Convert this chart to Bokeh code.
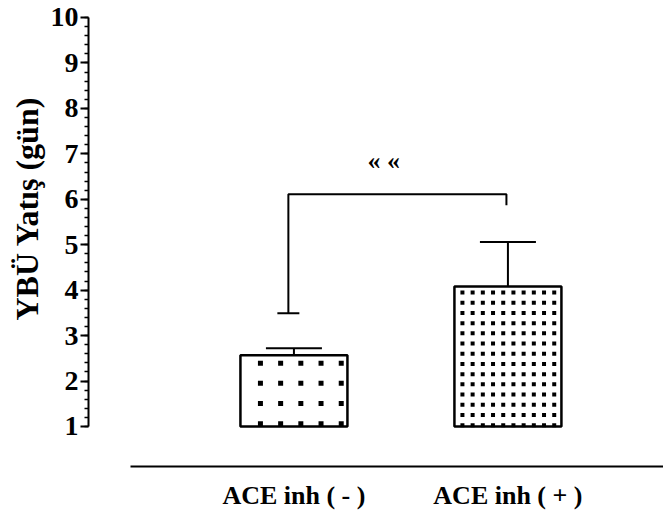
import numpy as np
from bokeh.plotting import figure
from bokeh.models import Range1d, FixedTicker, Title
from bokeh.embed import file_html
from bokeh.resources import INLINE
from bokeh.core.properties import value

# ---- data ----
categories = ["ACE inh ( - )", "ACE inh ( + )"]
group_x = [1, 2]
means = [2.57, 4.08]
sem = [0.15, 0.98]
baseline = 1.0
y_ticks = [1, 2, 3, 4, 5, 6, 7, 8, 9, 10]
y_label = "YBÜ Yatış (gün)"
bracket_x = [0.974, 1.993]
bracket_top = 6.11
bracket_left_bottom = 3.49
bracket_right_bottom = 5.87
sig_text = "« «"
sig_x = 1.42
sig_y = 6.85

# ---- layout ----
W, H = 663, 512
LEFT, BOTTOM = 88, 46
FW, FH = W - LEFT, H - BOTTOM
x0, x1 = 0.04, 2.727
y0, y1 = 0.1197, 10.374
dxp = (x1 - x0) / FW
dyp = (y1 - y0) / FH
FONT = "Liberation Serif"

p = figure(width=W, height=H, x_range=Range1d(x0, x1), y_range=Range1d(y0, y1),
           output_backend="svg", toolbar_location=None,
           min_border_left=LEFT, min_border_right=0, min_border_top=0,
           min_border_bottom=BOTTOM)
p.outline_line_color = None
p.grid.visible = False
p.background_fill_color = "white"
p.border_fill_color = "white"

# y axis
ya = p.yaxis[0]
ya.ticker = FixedTicker(ticks=y_ticks, minor_ticks=list(np.arange(1, 10.001, 0.2)))
ya.bounds = (y_ticks[0], y_ticks[-1])
ya.axis_line_width = 2
ya.major_tick_line_width = 2
ya.minor_tick_line_width = 1.5
ya.major_tick_out = 8
ya.major_tick_in = 0
ya.minor_tick_out = 4
ya.minor_tick_in = 0
ya.major_label_text_font = FONT
ya.major_label_text_font_style = "bold"
ya.major_label_text_font_size = "28px"
ya.major_label_text_color = "black"
ya.major_label_standoff = 2

# y label as a side title, anchored near the bottom of the frame
p.add_layout(Title(text=y_label, align="left", offset=146, standoff=6,
                   text_font=FONT, text_font_style="bold", text_font_size="32px",
                   text_color="black"), "left")

# x axis
xa = p.xaxis[0]
xa.ticker = FixedTicker(ticks=group_x, minor_ticks=[])
xa.major_label_overrides = {gx: c for gx, c in zip(group_x, categories)}
xa.bounds = (0.236, x1)
xa.axis_line_width = 2
xa.major_tick_out = 0
xa.major_tick_in = 0
xa.minor_tick_out = 0
xa.major_label_text_font = FONT
xa.major_label_text_font_style = "bold"
xa.major_label_text_font_size = "26px"
xa.major_label_text_color = "black"
xa.major_label_standoff = 14

bar_w = 0.5
tops = [m for m in means]
p.vbar(x=group_x, width=bar_w, bottom=baseline, top=tops, fill_color="white", line_color=None)

# dot textures (pixel spacing -> data units)
patterns = [dict(off_x=20, off_y=8, step=20.2, size=5),
            dict(off_x=8, off_y=6, step=10.2, size=4)]
for gx, top, pat in zip(group_x, tops, patterns):
    left, right = gx - bar_w / 2, gx + bar_w / 2
    xs = np.arange(left + pat["off_x"] * dxp, right - 2 * dxp, pat["step"] * dxp)
    ys = np.arange(top - pat["off_y"] * dyp, baseline + 1 * dyp, -pat["step"] * dyp)
    X, Y = np.meshgrid(xs, ys)
    p.scatter(X.ravel(), Y.ravel(), marker="square", size=pat["size"],
              fill_color="black", line_color=None)

p.vbar(x=group_x, width=bar_w, bottom=baseline, top=tops, fill_color=None,
       line_color="black", line_width=2.5)

# error bars
gx = np.array(group_x, dtype=float)
mt = np.array(tops)
et = mt + np.array(sem)
cap = 56 * dxp / 2
p.segment(x0=gx, y0=mt, x1=gx, y1=et, line_color="black", line_width=2)
p.segment(x0=gx - cap, y0=et, x1=gx + cap, y1=et, line_color="black", line_width=2)

# significance bracket
p.line(x=[bracket_x[0], bracket_x[0], bracket_x[1], bracket_x[1]],
       y=[bracket_left_bottom, bracket_top, bracket_top, bracket_right_bottom],
       line_color="black", line_width=2)
bcap = 22 * dxp / 2
p.segment(x0=[bracket_x[0] - bcap], y0=[bracket_left_bottom], x1=[bracket_x[0] + bcap],
          y1=[bracket_left_bottom], line_color="black", line_width=2)
p.text(x=[sig_x], y=[sig_y], text=[sig_text], text_align="center", text_baseline="middle",
       text_font=value(FONT), text_font_style="bold", text_font_size="26px", text_color="black")

open("out.html", "w").write(file_html(p, INLINE))
